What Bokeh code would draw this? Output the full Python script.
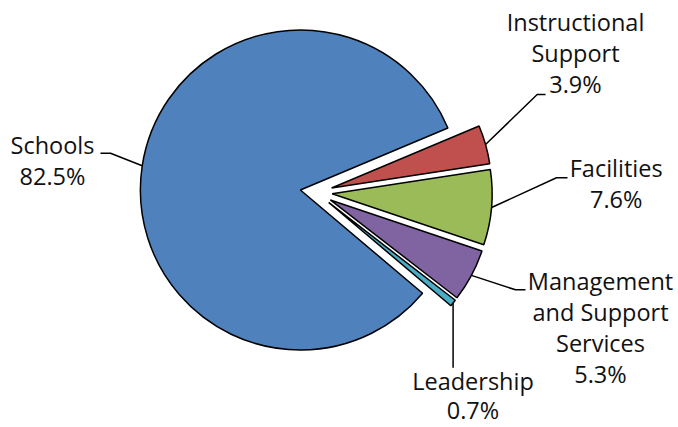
import math
from bokeh.plotting import figure
from bokeh.models import Range1d, ColumnDataSource
from bokeh.core.properties import value
from bokeh.embed import file_html
from bokeh.resources import INLINE

# ---- data ----
categories = ["Instructional Support", "Facilities", "Management and Support Services", "Leadership", "Schools"]
shares = [3.9, 7.6, 5.3, 0.7, 82.5]
label_lines = [
    ["Instructional", "Support", "3.9%"],
    ["Facilities", "7.6%"],
    ["Management", "and Support", "Services", "5.3%"],
    ["Leadership", "0.7%"],
    ["Schools", "82.5%"],
]
colors = ["#C0504D", "#9BBB59", "#8064A2", "#4BACC6", "#4F81BD"]

# ---- layout (pixel space, y measured downward and negated) ----
W, H = 678, 427
CX, CY = 315.7, -191.9      # common pie centre
R = 160                      # radius
EXPLODE = 16                 # explode distance for every slice
START = 22.8                 # degrees, first slice start, going clockwise
FONT = "Open Sans"
FS = "23.5px"
TEXT_SHIFT = 10              # correction for renderer baseline placement

# label anchors: (centre x, first baseline y, line spacing) in page pixels
label_pos = [(575, 31.7, 31), (615.7, 177.3, 31), (600, 290, 31), (472.5, 390, 29), (52, 154, 31)]
# leader elbow points in page pixels
elbows = [
    [(536.7, 94), (545, 94)],
    [(556, 177.3), (567, 177.3)],
    [(515, 289.3), (525, 289.3)],
    None,
    [(110, 152.7), (100, 152.7)],
]

p = figure(width=W, height=H, output_backend="svg", toolbar_location=None,
           x_range=Range1d(0, W), y_range=Range1d(-H, 0),
           x_axis_location=None, y_axis_location=None, min_border=0,
           background_fill_color="white", border_fill_color="white")
p.grid.visible = False
p.outline_line_color = None

total = sum(shares)
a = math.radians(START)
wx, wy, ws, we, mids = [], [], [], [], []
for s in shares:
    sweep = s / total * 2 * math.pi
    mid = a - sweep / 2
    wx.append(CX + EXPLODE * math.cos(mid))
    wy.append(CY + EXPLODE * math.sin(mid))
    ws.append(a)
    we.append(a - sweep)
    mids.append(mid)
    a -= sweep

src = ColumnDataSource(dict(x=wx, y=wy, start=ws, end=we, color=colors, name=categories))
p.wedge(x="x", y="y", radius=R, start_angle="start", end_angle="end", direction="clock",
        fill_color="color", line_color="black", line_width=1.5, source=src)

# leader lines
lx, ly = [], []
for i, mid in enumerate(mids):
    sx = wx[i] + R * math.cos(mid)
    sy = wy[i] + R * math.sin(mid)
    if elbows[i] is None:
        lx.append([sx, sx])
        ly.append([sy, -367.3])
    else:
        xs = [sx] + [e[0] for e in elbows[i]]
        ys = [sy] + [-e[1] for e in elbows[i]]
        lx.append(xs)
        ly.append(ys)
p.multi_line(xs=lx, ys=ly, line_color="black", line_width=1.5)

# labels
tx, ty, tt = [], [], []
for lines, (x0, y0, dy) in zip(label_lines, label_pos):
    for k, t in enumerate(lines):
        tx.append(x0)
        ty.append(-(y0 + k * dy - TEXT_SHIFT))
        tt.append(t)
p.text(x=tx, y=ty, text=tt, text_font=value(FONT), text_font_size=FS,
       text_align="center", text_baseline="alphabetic", text_color="#111111")

open("out.html", "w").write(file_html(p, INLINE))
